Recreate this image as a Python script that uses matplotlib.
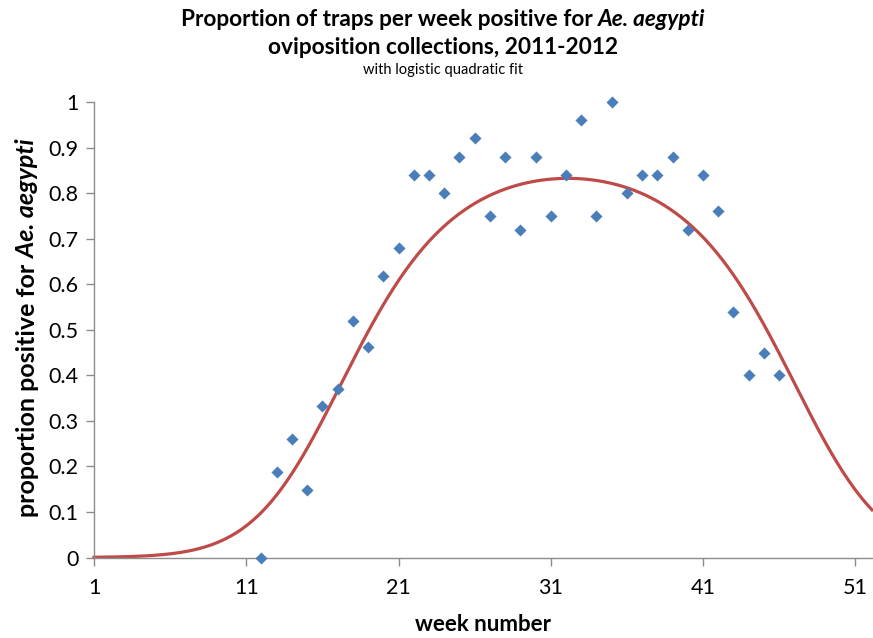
import numpy as np
import matplotlib
matplotlib.use("Agg")
import matplotlib.pyplot as plt

# weekly proportion of traps positive
weeks = [12, 13, 14, 15, 16, 17, 18, 19, 20, 21, 22, 23, 24, 25, 26, 27, 28, 29,
         30, 31, 32, 33, 34, 35, 36, 37, 38, 39, 40, 41, 42, 43, 44, 45, 46]
prop_positive = [0.0, 0.187, 0.26, 0.149, 0.333, 0.37, 0.519, 0.462, 0.617, 0.68,
                 0.84, 0.84, 0.80, 0.88, 0.92, 0.75, 0.88, 0.72, 0.88, 0.75,
                 0.84, 0.96, 0.75, 1.0, 0.80, 0.84, 0.84, 0.88, 0.72, 0.84,
                 0.76, 0.54, 0.40, 0.45, 0.40]

# logistic quadratic fit: logit(p) = a + b*week + c*week^2
fit_coefs = [-8.1, 0.604, -0.0094]
fit_range = (1, 52.1)

x_ticks = [1, 11, 21, 31, 41, 51]
y_ticks = [0, 0.1, 0.2, 0.3, 0.4, 0.5, 0.6, 0.7, 0.8, 0.9, 1.0]
y_tick_labels = ["0", "0.1", "0.2", "0.3", "0.4", "0.5", "0.6", "0.7", "0.8", "0.9", "1"]

FONT = ["Lato", "DejaVu Sans"]
plt.rcParams["font.family"] = FONT
AXIS_GREY = "#8c8c8c"
BLUE = "#4a7ebb"
RED = "#be4b48"

W, H = 873, 638
fig = plt.figure(figsize=(W / 100, H / 100), dpi=100)
ax = fig.add_axes([94 / W, 1 - 557.5 / H, (872 - 94) / W, (557.5 - 102) / H])

xs = np.linspace(fit_range[0], fit_range[1], 400)
a, b, c = fit_coefs
fit_curve = 1 / (1 + np.exp(-(a + b * xs + c * xs ** 2)))
ax.plot(xs, fit_curve, color=RED, lw=2.3, zorder=2, clip_on=False)
ax.scatter(weeks, prop_positive, marker="D", s=38, color=BLUE, zorder=3,
           clip_on=False, linewidths=0)

ax.set_xlim(fit_range)
ax.set_ylim(0, 1)
ax.set_xticks(x_ticks)
ax.set_yticks(y_ticks)
ax.set_yticklabels(y_tick_labels)
ax.tick_params(axis="both", direction="out", length=6, width=1, color=AXIS_GREY,
               labelsize=15.5, labelcolor="black")
ax.tick_params(axis="x", pad=9)
ax.tick_params(axis="y", pad=5)
for side in ["top", "right"]:
    ax.spines[side].set_visible(False)
for side in ["left", "bottom"]:
    ax.spines[side].set_color(AXIS_GREY)
    ax.spines[side].set_linewidth(1)

ax.set_xlabel("week number", fontsize=16, fontweight="bold", labelpad=11)


def mixed_text(parts, x, y, size, rotation=0):
    # draw [(text, style)] pieces side by side, centred on (x, y) in pixels
    renderer = fig.canvas.get_renderer()
    objs, widths = [], []
    for txt, style in parts:
        t = fig.text(0, 0, txt, fontsize=size, fontweight="bold", fontstyle=style,
                     rotation=rotation, ha="left", va="center", family=FONT)
        objs.append(t)
        bb = t.get_window_extent(renderer)
        widths.append(bb.height if rotation else bb.width)
    total = sum(widths)
    pos = -total / 2
    for t, w in zip(objs, widths):
        if rotation:
            t.set_position((x / W, 1 - (y - pos - w / 2) / H))
            t.set_ha("center")
        else:
            t.set_position(((x + pos) / W, 1 - y / H))
        pos += w


mixed_text([("Proportion of traps per week positive for ", "normal"),
            ("Ae. aegypti", "italic")], 443, 19, 16.3)
fig.text(443 / W, 1 - 47 / H, "oviposition collections, 2011-2012", fontsize=16.3,
         fontweight="bold", ha="center", va="center")
fig.text(443 / W, 1 - 70 / H, "with logistic quadratic fit", fontsize=10.5,
         ha="center", va="center")
mixed_text([("proportion positive for ", "normal"), ("Ae. aegypti", "italic")],
           28, 328, 18, rotation=90)

fig.savefig("out.png", dpi=100)
